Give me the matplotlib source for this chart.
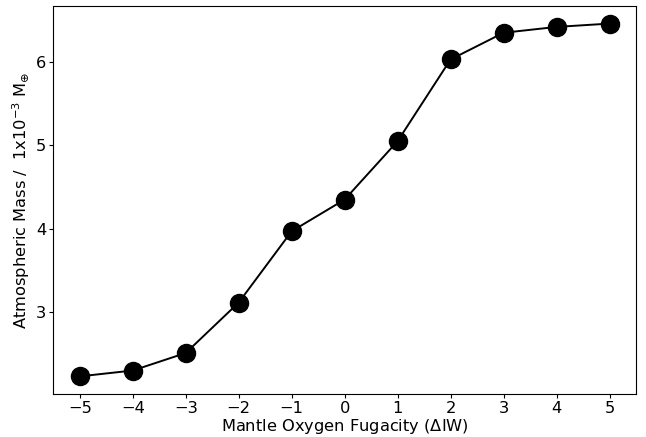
import matplotlib
matplotlib.use("Agg")
import matplotlib.pyplot as plt

# mantle oxygen fugacity relative to iron-wustite buffer
fo2 = [-5, -4, -3, -2, -1, 0, 1, 2, 3, 4, 5]
# atmospheric mass in units of 1e-3 Earth masses
atm_mass = [2.23, 2.30, 2.51, 3.115, 3.97, 4.35, 5.05, 6.03, 6.35, 6.42, 6.46]

fig = plt.figure(figsize=(6.46, 4.37), dpi=100)
ax = fig.add_axes([0.0825, 0.0984, 0.902, 0.888])

ax.plot(fo2, atm_mass, "k-", marker="o", markersize=13, linewidth=1.4)

ax.set_xticks(fo2)
ax.tick_params(labelsize=11.7, length=3, pad=2)
ax.set_xlabel(r"Mantle Oxygen Fugacity ($\Delta$IW)", fontsize=11.7, labelpad=0.5)
ax.set_ylabel(r"Atmospheric Mass /  1x10$^{-3}$ M$_{\oplus}$", fontsize=11.7,
              labelpad=3)

fig.savefig("out.png", dpi=100)
